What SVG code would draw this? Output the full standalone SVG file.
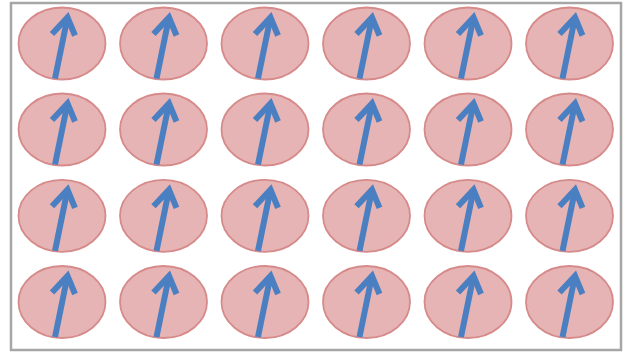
<svg xmlns="http://www.w3.org/2000/svg" xmlns:xlink="http://www.w3.org/1999/xlink" width="624" height="356" viewBox="0 0 624 356">
<style>
.frame{fill:#ffffff;stroke:#a6a6a6;stroke-width:2.5}
.ball{fill:#e6b4b4;stroke:#d68a8a;stroke-width:1.8}
.arrow{fill:none;stroke:#4a7fc1;stroke-width:6;stroke-linecap:butt;stroke-linejoin:miter}
</style>
<defs>
<g id="spin">
<ellipse class="ball" cx="0" cy="0" rx="43.5" ry="36"/>
<path class="arrow" d="M-7,35 L5.5,-26"/>
<path class="arrow" d="M-10,-9.5 L5.5,-26 L13,-8"/>
</g>
</defs>
<rect class="frame" x="11" y="3" width="610" height="347"/>
<g id="connectors"></g>
<g id="r1c1"><use xlink:href="#spin" x="62" y="43.5"/></g>
<g id="r1c2"><use xlink:href="#spin" x="163.5" y="43.5"/></g>
<g id="r1c3"><use xlink:href="#spin" x="265" y="43.5"/></g>
<g id="r1c4"><use xlink:href="#spin" x="366.5" y="43.5"/></g>
<g id="r1c5"><use xlink:href="#spin" x="468" y="43.5"/></g>
<g id="r1c6"><use xlink:href="#spin" x="569.5" y="43.5"/></g>
<g id="r2c1"><use xlink:href="#spin" x="62" y="129.5"/></g>
<g id="r2c2"><use xlink:href="#spin" x="163.5" y="129.5"/></g>
<g id="r2c3"><use xlink:href="#spin" x="265" y="129.5"/></g>
<g id="r2c4"><use xlink:href="#spin" x="366.5" y="129.5"/></g>
<g id="r2c5"><use xlink:href="#spin" x="468" y="129.5"/></g>
<g id="r2c6"><use xlink:href="#spin" x="569.5" y="129.5"/></g>
<g id="r3c1"><use xlink:href="#spin" x="62" y="215.8"/></g>
<g id="r3c2"><use xlink:href="#spin" x="163.5" y="215.8"/></g>
<g id="r3c3"><use xlink:href="#spin" x="265" y="215.8"/></g>
<g id="r3c4"><use xlink:href="#spin" x="366.5" y="215.8"/></g>
<g id="r3c5"><use xlink:href="#spin" x="468" y="215.8"/></g>
<g id="r3c6"><use xlink:href="#spin" x="569.5" y="215.8"/></g>
<g id="r4c1"><use xlink:href="#spin" x="62" y="302"/></g>
<g id="r4c2"><use xlink:href="#spin" x="163.5" y="302"/></g>
<g id="r4c3"><use xlink:href="#spin" x="265" y="302"/></g>
<g id="r4c4"><use xlink:href="#spin" x="366.5" y="302"/></g>
<g id="r4c5"><use xlink:href="#spin" x="468" y="302"/></g>
<g id="r4c6"><use xlink:href="#spin" x="569.5" y="302"/></g>
</svg>
